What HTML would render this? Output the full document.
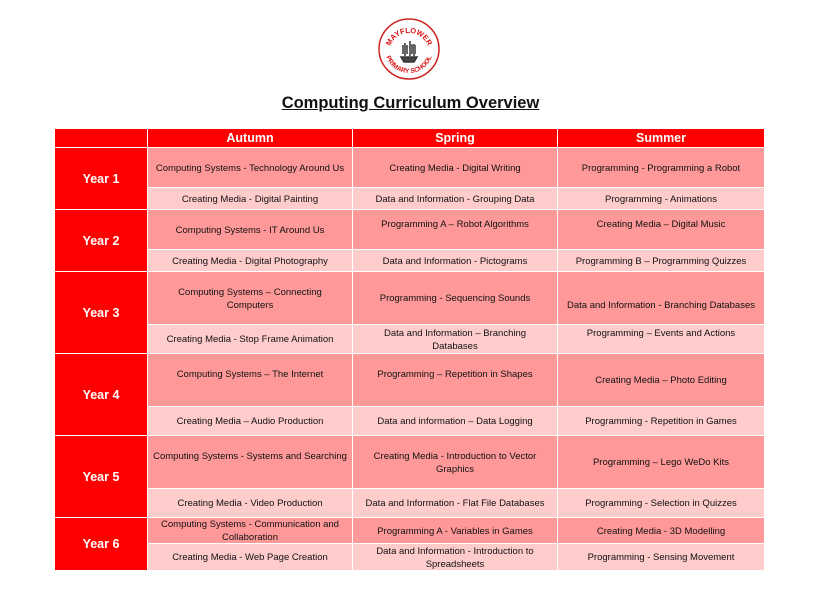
<!DOCTYPE html>
<html><head><meta charset="utf-8"><style>
body{margin:0;width:821px;height:590px;background:#fff;position:relative;font-family:"Liberation Sans",Arial,sans-serif;overflow:hidden}
.c{position:absolute;display:flex;align-items:center;justify-content:center;text-align:center;font-size:9.5px;color:#111;line-height:13px;box-sizing:border-box;padding:1px 4px 0}
.t{align-items:flex-start;padding-top:6px}
.b{align-items:flex-end;padding-bottom:6px}
.r{background:#ff0000;color:#fff;font-weight:bold;font-size:12.5px}
.d{background:#ff9999}
.l{background:#ffcccc}
h1{position:absolute;left:0;width:821px;top:94px;margin:0;text-align:center;font-size:16.5px;font-weight:bold;text-decoration:underline;color:#111}
</style></head><body>
<svg style="position:absolute;left:377px;top:17px" width="64" height="64" viewBox="0 0 64 64">
<defs><path id="a" d="M12,36 A20,20 0 0 1 52,36"/><path id="b" d="M8,32 A24,24 0 0 0 56,32"/></defs>
<circle cx="32" cy="32" r="30" fill="#fff" stroke="#c22" stroke-width="1.5"/>
<text font-size="7.5" font-weight="bold" fill="#d11" font-family="Liberation Sans"><textPath href="#a" startOffset="50%" text-anchor="middle">MAYFLOWER</textPath></text>
<text font-size="6.5" font-weight="bold" fill="#d11" font-family="Liberation Sans"><textPath href="#b" startOffset="50%" text-anchor="middle">PRIMARY SCHOOL</textPath></text>
<path d="M24 40 L40 40 L37 45 L27 45 Z M28 26 L28 39 M33 24 L33 39 M37 27 L37 39" stroke="#333" stroke-width="1.5" fill="#444"/>
<path d="M25 28 L31 28 L31 37 L25 37 Z M34 27 L39 28 L39 37 L34 37Z" fill="#666"/>
</svg>
<h1>Computing Curriculum Overview</h1>

<div class="c r" style="left:55px;top:129px;width:92px;height:18px"></div>
<div class="c r" style="left:148px;top:129px;width:204px;height:18px">Autumn</div>
<div class="c r" style="left:353px;top:129px;width:204px;height:18px">Spring</div>
<div class="c r" style="left:558px;top:129px;width:206px;height:18px">Summer</div>

<div class="c r" style="left:55px;top:148px;width:92px;height:61px">Year 1</div>
<div class="c d" style="left:148px;top:148px;width:204px;height:39px">Computing Systems - Technology Around Us</div>
<div class="c d" style="left:353px;top:148px;width:204px;height:39px">Creating Media - Digital Writing</div>
<div class="c d" style="left:558px;top:148px;width:206px;height:39px">Programming - Programming a Robot</div>
<div class="c l" style="left:148px;top:188px;width:204px;height:21px">Creating Media - Digital Painting</div>
<div class="c l" style="left:353px;top:188px;width:204px;height:21px">Data and Information - Grouping Data</div>
<div class="c l" style="left:558px;top:188px;width:206px;height:21px">Programming - Animations</div>

<div class="c r" style="left:55px;top:210px;width:92px;height:61px">Year 2</div>
<div class="c d" style="left:148px;top:210px;width:204px;height:39px">Computing Systems - IT Around Us</div>
<div class="c d t" style="left:353px;top:210px;width:204px;height:39px;padding-top:8px">Programming A – Robot Algorithms</div>
<div class="c d t" style="left:558px;top:210px;width:206px;height:39px;padding-top:8px">Creating Media – Digital Music</div>
<div class="c l" style="left:148px;top:250px;width:204px;height:21px">Creating Media - Digital Photography</div>
<div class="c l" style="left:353px;top:250px;width:204px;height:21px">Data and Information - Pictograms</div>
<div class="c l" style="left:558px;top:250px;width:206px;height:21px">Programming B – Programming Quizzes</div>

<div class="c r" style="left:55px;top:272px;width:92px;height:81px">Year 3</div>
<div class="c d" style="left:148px;top:272px;width:204px;height:52px">Computing Systems – Connecting<br>Computers</div>
<div class="c d" style="left:353px;top:272px;width:204px;height:52px">Programming - Sequencing Sounds</div>
<div class="c d b" style="left:558px;top:272px;width:206px;height:52px;padding-bottom:12px">Data and Information - Branching Databases</div>
<div class="c l" style="left:148px;top:325px;width:204px;height:28px">Creating Media - Stop Frame Animation</div>
<div class="c l" style="left:353px;top:325px;width:204px;height:28px">Data and Information – Branching<br>Databases</div>
<div class="c l t" style="left:558px;top:325px;width:206px;height:28px;padding-top:2px">Programming – Events and Actions</div>

<div class="c r" style="left:55px;top:354px;width:92px;height:81px">Year 4</div>
<div class="c d t" style="left:148px;top:354px;width:204px;height:52px;padding-top:14px">Computing Systems – The Internet</div>
<div class="c d t" style="left:353px;top:354px;width:204px;height:52px;padding-top:14px">Programming – Repetition in Shapes</div>
<div class="c d" style="left:558px;top:354px;width:206px;height:52px">Creating Media – Photo Editing</div>
<div class="c l" style="left:148px;top:407px;width:204px;height:28px">Creating Media – Audio Production</div>
<div class="c l" style="left:353px;top:407px;width:204px;height:28px">Data and information – Data Logging</div>
<div class="c l" style="left:558px;top:407px;width:206px;height:28px">Programming - Repetition in Games</div>

<div class="c r" style="left:55px;top:436px;width:92px;height:81px">Year 5</div>
<div class="c d t" style="left:148px;top:436px;width:204px;height:52px;padding-top:14px">Computing Systems - Systems and Searching</div>
<div class="c d" style="left:353px;top:436px;width:204px;height:52px">Creating Media - Introduction to Vector<br>Graphics</div>
<div class="c d" style="left:558px;top:436px;width:206px;height:52px">Programming – Lego WeDo Kits</div>
<div class="c l" style="left:148px;top:489px;width:204px;height:28px">Creating Media - Video Production</div>
<div class="c l" style="left:353px;top:489px;width:204px;height:28px">Data and Information - Flat File Databases</div>
<div class="c l" style="left:558px;top:489px;width:206px;height:28px">Programming - Selection in Quizzes</div>

<div class="c r" style="left:55px;top:518px;width:92px;height:52px">Year 6</div>
<div class="c d" style="left:148px;top:518px;width:204px;height:25px">Computing Systems - Communication and<br>Collaboration</div>
<div class="c d" style="left:353px;top:518px;width:204px;height:25px">Programming A - Variables in Games</div>
<div class="c d" style="left:558px;top:518px;width:206px;height:25px">Creating Media - 3D Modelling</div>
<div class="c l" style="left:148px;top:544px;width:204px;height:26px">Creating Media - Web Page Creation</div>
<div class="c l" style="left:353px;top:544px;width:204px;height:26px">Data and Information - Introduction to<br>Spreadsheets</div>
<div class="c l" style="left:558px;top:544px;width:206px;height:26px">Programming - Sensing Movement</div>
</body></html>
